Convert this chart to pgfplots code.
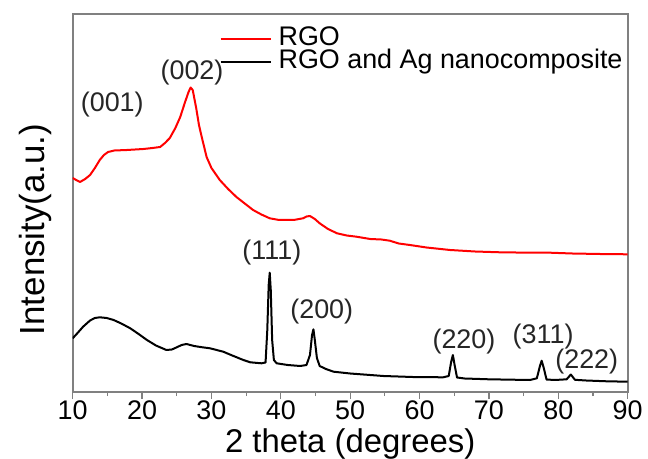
\documentclass[border=0pt]{standalone}
\usepackage{pgfplots}
\pgfplotsset{compat=1.18}
\usepackage{fontspec}
\setmainfont{Liberation Sans}
\definecolor{framegray}{HTML}{808080}
\begin{document}
\begin{tikzpicture}
\begin{axis}[
  scale only axis,
  width=555bp, height=378bp,
  xmin=10, xmax=90, ymin=0, ymax=378,
  xtick={10,20,...,90},
  minor xtick={15,25,...,85},
  ytick=\empty,
  xtick pos=lower,
  tick align=outside,
  major tick length=7bp, minor tick length=4bp,
  every tick/.style={framegray, line width=1.2bp},
  axis line style={framegray, line width=1.6bp},
  ticklabel style={font=\fontsize{27}{30}\selectfont, text=black, inner sep=2bp},
  /pgf/number format/assume math mode=true,
  xlabel={2 theta (degrees)},
  ylabel={Intensity(a.u.)},
  xlabel style={font=\fontsize{33}{35}\selectfont, at={(axis description cs:0.5,-0.097)}, anchor=north, inner sep=0pt},
  ylabel style={font=\fontsize{35}{38}\selectfont, at={(axis description cs:-0.038,0.43)}, anchor=south, inner sep=0pt},
  legend style={draw=none, fill=none, at={(axis description cs:1,1)}, anchor=north east, xshift=-5bp, yshift=-14bp,
    font=\fontsize{27}{23}\selectfont, inner sep=0pt, row sep=1pt,
    nodes={inner sep=0pt, text height=17bp, text depth=5bp, anchor=west}},
  legend cell align=left,
  legend image code/.code={\draw[#1] (0bp,0bp) -- (50bp,0bp);},
  every axis plot/.append style={line width=2bp, line join=round},
]
\addplot[red] coordinates {
(10.0,214) (10.5,212) (11.05,210) (11.8,213) (12.5,217) (13.2,224) (13.9,232) (14.5,237)
(15.1,240) (16.0,241.5) (17.8,242) (19.0,242.5) (20.2,243) (21.5,244) (22.6,245) (23.3,249)
(24.0,254) (24.8,264) (25.5,275) (26.2,290) (26.7,300) (27.0,304.5) (27.3,302) (27.8,284)
(28.2,267) (28.6,255) (29.3,235) (30.0,224) (31.2,212) (32.4,203) (33.6,195) (34.8,188.5)
(36.0,182) (37.2,177.5) (38.4,173.7) (39.6,172.2) (40.8,172) (42.0,172.2) (43.2,173.7) (43.7,175.5)
(44.2,176) (44.9,173) (45.6,168.7) (46.8,163) (48.1,158.7) (49.5,156.5) (50.9,155.3) (52.9,153)
(54.5,152.5) (55.7,151.3) (57.0,148.5) (58.6,147) (61.0,144.5) (64.4,142) (68.0,140.5) (71.6,139.7)
(75.0,139.4) (78.8,139.3) (82.0,138.5) (86.0,138) (90.0,137.7)
};
\addlegendentry{\hspace{7bp}RGO}
\addplot[black] coordinates {
(10.0,53.7) (10.7,59) (11.5,65.3) (12.5,71.5) (13.2,74) (13.9,74.7) (14.9,74) (15.9,72)
(17.0,68.5) (18.3,63.7) (19.5,58) (20.7,52) (22.0,46.5) (23.5,42) (24.3,42.5) (25.0,44.7)
(25.7,47) (26.4,48) (27.5,46) (28.6,44.8) (29.8,43.7) (31.7,40.3) (33.0,36.5) (34.6,32)
(35.6,29.7) (37.2,28.7) (37.8,29.5) (38.05,62) (38.25,107) (38.4,119.3) (38.55,102) (38.75,52)
(39.0,32) (39.4,28.7) (41.0,27) (42.8,26) (43.7,27) (44.2,37) (44.5,57) (44.7,62.7)
(44.9,52) (45.2,34) (45.6,26) (46.5,23) (47.6,20.3) (50.0,18.5) (54.8,16) (59.0,15)
(63.4,14.7) (64.2,16) (64.55,30) (64.8,37) (65.05,27) (65.4,14.5) (66.5,13.5) (70.0,12.7)
(75.9,12) (76.9,13.7) (77.35,26) (77.6,31.3) (77.9,24) (78.3,12.5) (79.5,12) (81.2,12.7)
(81.8,17.5) (82.4,12.2) (84.0,11.5) (87.0,10.7) (90.0,10.3)
};
\addlegendentry{\hspace{7bp}RGO and Ag nanocomposite}
\begin{scope}[every node/.style={font=\fontsize{27}{30}\selectfont, text=black!85}]
\node at (axis cs:15.7,287) {(001)};
\node at (axis cs:27.2,319) {(002)};
\node at (axis cs:38.7,139) {(111)};
\node at (axis cs:45.9,80) {(200)};
\node at (axis cs:66.4,50) {(220)};
\node at (axis cs:77.8,55) {(311)};
\node at (axis cs:84.1,30) {(222)};
\end{scope}
\end{axis}
\pgfresetboundingbox
\useasboundingbox (current axis.south west) ++(-72.7bp,-67bp) rectangle ++(648bp,459bp);
\end{tikzpicture}
\end{document}
